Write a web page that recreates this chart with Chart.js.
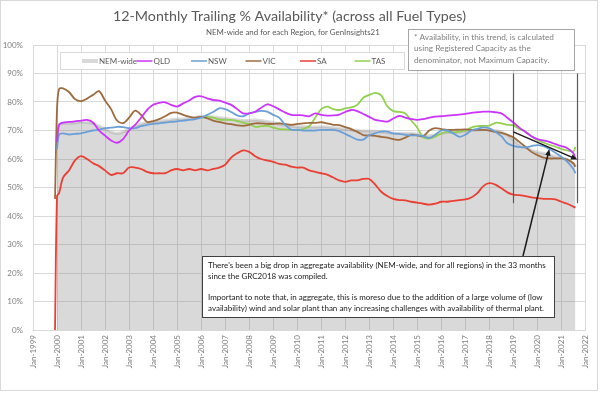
<!DOCTYPE html>
<html lang="en">
<head>
<meta charset="UTF-8">
<title>12-Monthly Trailing % Availability</title>
<script src="https://cdn.jsdelivr.net/npm/chart.js"></script>
<style>
  html, body { margin: 0; padding: 0; background: #fff; }
  #wrap { width: 600px; height: 394px; }
</style>
</head>
<body>
<div id="wrap"><canvas id="myChart" width="600" height="394"></canvas></div>
<script>
// month of each reading (quarterly after the start)
const months = [
  '1999-12', '2000-01', '2000-02', '2000-04', '2000-07', '2000-10',
  '2001-01', '2001-04', '2001-07', '2001-10', '2002-01', '2002-04', '2002-07', '2002-10',
  '2003-01', '2003-04', '2003-07', '2003-10', '2004-01', '2004-04', '2004-07', '2004-10',
  '2005-01', '2005-04', '2005-07', '2005-10', '2006-01', '2006-04', '2006-07', '2006-10',
  '2007-01', '2007-04', '2007-07', '2007-10', '2008-01', '2008-04', '2008-07', '2008-10',
  '2009-01', '2009-04', '2009-07', '2009-10', '2010-01', '2010-04', '2010-07', '2010-10',
  '2011-01', '2011-04', '2011-07', '2011-10', '2012-01', '2012-04', '2012-07', '2012-10',
  '2013-01', '2013-04', '2013-07', '2013-10', '2014-01', '2014-04', '2014-07', '2014-10',
  '2015-01', '2015-04', '2015-07', '2015-10', '2016-01', '2016-04', '2016-07', '2016-10',
  '2017-01', '2017-04', '2017-07', '2017-10', '2018-01', '2018-04', '2018-07', '2018-10',
  '2019-01', '2019-04', '2019-07', '2019-10', '2020-01', '2020-04', '2020-07', '2020-10',
  '2021-01', '2021-04', '2021-07', '2021-08'
];

const nemWide = [
  null, 67.5, 72, 72.5, 72.5, 72.7,
  73, 72.8, 72.5, 71.5, 70.5, 69.5, 69, 69.5,
  70.5, 71.5, 72.3, 72.8, 73, 73.3, 73.5, 73.8,
  74, 74, 74.3, 74.6, 75, 75, 74.8, 74.5,
  74.3, 74, 73.8, 73.5, 73.5, 73.7, 73.5, 73.2,
  72.8, 72.3, 71.9, 71.5, 71.3, 71.3, 71.3, 71.2,
  71.3, 71.2, 71, 70.8, 70.5, 70.2, 70, 69.8,
  69.8, 69.7, 69.6, 69.3, 69, 69, 69, 69,
  68.8, 68.3, 68.2, 68.5, 69, 69.3, 69.3, 69.5,
  69.8, 70, 70.2, 70.3, 70.3, 70, 69.5, 68.5,
  66.7, 65, 64, 63.2, 62.5, 62, 61.5, 60.8,
  60.3, 59.8, 58.5, 57.3
];

const qld = [
  null, 66, 72, 72.8, 73, 73.2,
  73.5, 73.7, 72.8, 70, 68.2, 66.5, 65.7, 67,
  70, 72, 74.5, 77.2, 79, 79.7, 79.9, 79,
  78.4, 79.5, 80.5, 81.8, 82, 81.3, 80.7, 80.5,
  79.8, 79, 77.5, 76, 76, 76.6, 78, 79.2,
  78.5, 77.4, 76.3, 75.5, 75.4, 75.3, 75, 76,
  75.5, 75.2, 75.3, 75.6, 76.5, 77.2, 76.8, 75.8,
  74.8, 73.7, 73.4, 73.1, 74.2, 75.1, 74.5, 74,
  73.7, 74, 74.5, 74.9, 75, 75.2, 75.4, 75.6,
  75.8, 76.2, 76.4, 76.6, 76.6, 76.4, 76, 74.5,
  72.8, 71, 69.5, 68, 67, 66.5, 66, 65.2,
  64.5, 63.8, 62, 60
];

const nsw = [
  null, 63.5, 68.5, 69, 68.6, 68.8,
  69, 69.5, 70, 70.3, 70.8, 71, 71.3, 71.2,
  70.8, 70.8, 71.5, 72, 72.3, 72.5, 72.8, 73,
  73.2, 73.5, 73.7, 74, 74.5, 75.5, 76.5, 77.8,
  77.5, 76.5, 75.3, 75, 76, 76.5, 76.9, 76.6,
  75.5, 74.5, 72, 70.3, 70.2, 70, 70, 70,
  70.2, 70.2, 70.2, 69.8, 68.8, 67.8, 66.8, 66.8,
  68.4, 69, 69.6, 69.6, 69, 68.8, 68.5, 68.3,
  68.3, 68, 67.3, 68.5, 70, 70, 69, 67.8,
  68.5, 70, 70.6, 71.1, 70.8, 69.5, 68, 65.5,
  64.6, 64.2, 64.1, 64.5, 64.9, 64.5, 63.5, 62.2,
  60.8, 59, 56.5, 55
];

const vic = [
  46, 77.5, 84.5, 84.8, 83.5, 81,
  80.3, 81.2, 82.5, 83.8, 80.5, 77.5, 73.5, 72.6,
  74.5, 77, 75.5, 73, 73.3, 74, 75, 76.2,
  76.3, 75.5, 74.9, 74.5, 74.8, 74.3, 73.5, 73,
  72.5, 72.2, 71.8, 71.6, 72, 72.5, 72.5, 72.3,
  72.3, 72.5, 72.3, 72, 72.3, 72.5, 72.7, 72.7,
  72.9, 72.5, 72, 71.9, 71.2, 70.5, 69.5, 68.4,
  68.3, 68.1, 67.8, 67.5, 67, 66.7, 67.5, 68.5,
  68.3, 68, 70, 70.8, 70.5, 70.2, 70.2, 70.3,
  70.4, 70.2, 70.2, 70.2, 70, 69.5, 69.2, 68.5,
  67.6, 66, 64.3, 62.5, 61.4, 60.5, 60.2, 60.2,
  60.2, 59.8, 58.5, 57.3
];

const sa = [
  0, 47, 48, 53.5, 56, 59.5,
  61, 60, 58.5, 57.5, 56, 54.4, 55, 55,
  57, 57, 56.5, 55.5, 55, 55, 55, 56,
  56.5, 56, 56.5, 56, 56.5, 56, 56.5, 57,
  58, 60.5, 62, 63, 62.5, 61, 60, 59.5,
  59, 58.3, 58, 57.3, 57, 57, 56, 55.5,
  55, 54.5, 53.5, 52.5, 52, 52.5, 52.5, 53,
  53, 51, 48.5, 47, 46, 45.6, 45.5, 45,
  44.7, 44.3, 44, 44.3, 45, 45, 45.3, 45.6,
  45.8, 46.5, 48, 50.5, 51.5, 51, 49.7, 48.3,
  47.5, 47.3, 47, 46.5, 46.3, 46, 46, 45.8,
  45, 44.3, 43.3, 42.9
];

const tas = [
  null, null, null, null, null, null,
  null, null, null, null, null, null, null, null,
  null, null, null, null, null, null, null, null,
  null, null, null, null, 74.5, 74.8, 74.5, 73.8,
  73.7, 73.7, 73.3, 72.7, 72.3, 71.3, 71.5, 71.6,
  71, 70.5, 70.4, 70.2, 70.2, 70.5, 71.5, 74.5,
  77.5, 78.4, 77.5, 77.2, 77.8, 78.1, 79, 81.5,
  82.5, 83.2, 82.3, 78.5, 76.8, 76.5, 76, 73.5,
  71, 67.5, 67.2, 67.8, 69, 69.5, 69.4, 69.6,
  70, 71, 71.5, 71.6, 71.7, 72.7, 72.5, 72,
  71.8, 70.5, 69.6, 68, 66.7, 65.8, 65, 64.3,
  63.5, 63, 62.6, 64.3
];

const seriesNames = ['NEM-wide', 'QLD', 'NSW', 'VIC', 'SA', 'TAS'];
const seriesColors = ['#d9d9d9', '#cc33ff', '#6a9fd8', '#9e6b3f', '#ea3f33', '#92d050'];

const noteLines = [
  '* Availability, in this trend, is calculated',
  'using Registered Capacity as the',
  'denominator, not Maximum Capacity.'
];
const commentLines = [
  "There's been a big drop in aggregate availability (NEM-wide, and for all regions) in the 33 months",
  'since the GRC2018 was compiled.',
  '',
  'Important to note that, in aggregate, this is moreso due to the addition of a large volume of (low',
  'availability) wind and solar plant than any increasing challenges with availability of thermal plant.'
];

const FONT = 'Lato, "Open Sans", sans-serif';

function toYear(m) {
  const [yy, mm] = m.split('-').map(Number);
  return yy + (mm - 1) / 12;
}
function pts(vals) {
  return vals.map((v, i) => ({ x: toYear(months[i]), y: v }));
}

// fit a line of text into a given width
function fitFont(ctx, text, width, weight) {
  ctx.font = (weight || '') + ' 20px ' + FONT;
  const w = ctx.measureText(text).width;
  return (weight || '') + ' ' + (20 * width / w).toFixed(2) + 'px ' + FONT;
}

function arrow(ctx, x1, y1, x2, y2) {
  const a = Math.atan2(y2 - y1, x2 - x1);
  ctx.beginPath();
  ctx.moveTo(x1, y1);
  ctx.lineTo(x2 - 5 * Math.cos(a), y2 - 5 * Math.sin(a));
  ctx.stroke();
  ctx.beginPath();
  ctx.moveTo(x2, y2);
  ctx.lineTo(x2 - 7 * Math.cos(a - 0.4), y2 - 7 * Math.sin(a - 0.4));
  ctx.lineTo(x2 - 7 * Math.cos(a + 0.4), y2 - 7 * Math.sin(a + 0.4));
  ctx.closePath();
  ctx.fill();
}

const overlay = {
  id: 'overlay',
  beforeDraw(chart) {
    const ctx = chart.ctx;
    ctx.save();
    ctx.fillStyle = '#fff';
    ctx.fillRect(0, 0, chart.width, chart.height);
    ctx.restore();
  },
  afterDraw(chart) {
    const { ctx, scales: { x, y } } = chart;
    ctx.save();

    // outer frame
    ctx.strokeStyle = '#d9d9d9';
    ctx.lineWidth = 1;
    ctx.strokeRect(0.5, 0.5, 597, 390);

    // titles
    ctx.fillStyle = '#595959';
    ctx.textAlign = 'left';
    ctx.textBaseline = 'middle';
    const title = '12-Monthly Trailing % Availability* (across all Fuel Types)';
    ctx.font = fitFont(ctx, title, 353);
    ctx.fillText(title, 113, 16);
    const sub = 'NEM-wide and for each Region, for GenInsights21';
    ctx.font = fitFont(ctx, sub, 174);
    ctx.fillText(sub, 206, 32);

    // legend
    ctx.fillStyle = '#fff';
    ctx.fillRect(60, 52, 344, 17);
    ctx.strokeStyle = '#d9d9d9';
    ctx.strokeRect(60.5, 52.5, 344, 17);
    ctx.font = '8px ' + FONT;
    seriesNames.forEach((name, i) => {
      const lx = 82 + i * 54.5;
      ctx.strokeStyle = seriesColors[i];
      ctx.lineWidth = i === 0 ? 4 : 1.5;
      ctx.beginPath();
      ctx.moveTo(lx, 61);
      ctx.lineTo(lx + 16, 61);
      ctx.stroke();
      ctx.fillStyle = '#595959';
      ctx.fillText(name, lx + 17, 61);
    });

    // note box
    ctx.lineWidth = 1;
    ctx.fillStyle = '#fff';
    ctx.fillRect(408, 29, 167, 42);
    ctx.strokeStyle = '#a6a6a6';
    ctx.strokeRect(408.5, 29.5, 166, 41);
    ctx.fillStyle = '#7f7f7f';
    ctx.font = fitFont(ctx, noteLines[0], 140);
    noteLines.forEach((t, i) => ctx.fillText(t, 414, 37 + i * 11.5));

    // period markers
    ctx.strokeStyle = '#595959';
    ctx.lineWidth = 1.2;
    [toYear('2019-01'), toYear('2021-09')].forEach(v => {
      const px = Math.round(x.getPixelForValue(v)) + 0.5;
      ctx.beginPath();
      ctx.moveTo(px, y.getPixelForValue(90));
      ctx.lineTo(px, y.getPixelForValue(44.5));
      ctx.stroke();
    });

    // arrows
    ctx.strokeStyle = '#1a1a1a';
    ctx.fillStyle = '#1a1a1a';
    ctx.lineWidth = 1.5;
    arrow(ctx, x.getPixelForValue(toYear('2019-01')), y.getPixelForValue(69.5),
               x.getPixelForValue(toYear('2021-09')), y.getPixelForValue(59.8));
    arrow(ctx, 523, 256, x.getPixelForValue(toYear('2020-07')), y.getPixelForValue(63.5));

    // comment box
    ctx.lineWidth = 1;
    ctx.fillStyle = '#fff';
    ctx.fillRect(202, 256, 352, 61);
    ctx.strokeStyle = '#404040';
    ctx.strokeRect(202.5, 256.5, 352, 61);
    ctx.fillStyle = '#1a1a1a';
    ctx.font = fitFont(ctx, commentLines[0], 338);
    const ly = [265, 276, 286, 297, 308];
    commentLines.forEach((t, i) => ctx.fillText(t, 208, ly[i]));

    ctx.restore();
  }
};

const datasets = [
  { label: 'SA', data: pts(sa), borderColor: seriesColors[4], borderWidth: 1.8, order: 1 },
  { label: 'QLD', data: pts(qld), borderColor: seriesColors[1], borderWidth: 1.8, order: 2 },
  { label: 'NSW', data: pts(nsw), borderColor: seriesColors[2], borderWidth: 1.8, order: 3 },
  { label: 'VIC', data: pts(vic), borderColor: seriesColors[3], borderWidth: 1.8, order: 4 },
  { label: 'TAS', data: pts(tas), borderColor: seriesColors[5], borderWidth: 1.8, order: 5 },
  { label: 'NEM-wide', data: pts(nemWide), borderColor: 'rgba(140,140,140,0.3)', borderWidth: 3,
    backgroundColor: 'rgba(128,128,128,0.3)', fill: 'origin', order: 9 }
];
datasets.forEach(d => { d.pointRadius = 0; d.tension = 0.3; d.spanGaps = false; });

const ctx = document.getElementById('myChart').getContext('2d');
const myChart = new Chart(ctx, {
  type: 'line',
  data: { datasets },
  options: {
    responsive: false,
    animation: false,
    layout: { padding: { top: 45, right: 13, left: 0, bottom: 0 } },
    plugins: { legend: { display: false }, tooltip: { enabled: false } },
    scales: {
      x: {
        type: 'linear', min: 1999, max: 2022,
        grid: { color: '#d9d9d9', drawTicks: false },
        border: { color: '#d9d9d9' },
        ticks: {
          stepSize: 1, autoSkip: false, minRotation: 90, maxRotation: 90, padding: 5,
          color: '#7f7f7f', font: { size: 8, family: FONT },
          callback: v => 'Jan-' + v
        },
        afterFit: s => { s.height = 64; }
      },
      y: {
        min: 0, max: 100,
        grid: { color: '#d9d9d9', drawTicks: false },
        border: { color: '#d9d9d9' },
        ticks: {
          stepSize: 10, padding: 10,
          color: '#7f7f7f', font: { size: 8, family: FONT },
          callback: v => v + '%'
        },
        afterFit: s => { s.width = 33; }
      }
    }
  },
  plugins: [overlay]
});
</script>
</body>
</html>
